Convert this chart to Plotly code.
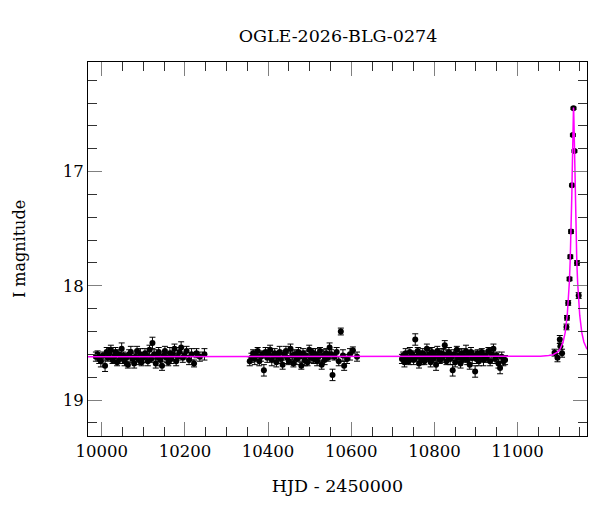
import plotly.graph_objects as go

# ---- Season 1 ----
t1 = [9986, 9990, 9994, 9998, 10003, 10008, 10012, 10015,
      10019, 10022, 10026, 10030, 10033, 10037, 10041, 10044,
      10048, 10052, 10055, 10059, 10063, 10066, 10070, 10074,
      10078, 10081, 10085, 10089, 10093, 10096, 10100, 10104,
      10108, 10111, 10115, 10119, 10122, 10126, 10130, 10134,
      10137, 10141, 10145, 10149, 10152, 10156, 10160, 10164,
      10167, 10171, 10175, 10179, 10183, 10187, 10191, 10195,
      10199, 10204, 10210, 10216, 10222, 10228, 10236, 10247]
m1 = [18.62, 18.60, 18.64, 18.66, 18.61, 18.70, 18.58, 18.63,
      18.59, 18.56, 18.65, 18.62, 18.58, 18.67, 18.60, 18.64,
      18.55, 18.61, 18.66, 18.63, 18.69, 18.60, 18.58, 18.64,
      18.68, 18.62, 18.57, 18.65, 18.60, 18.67, 18.63, 18.59,
      18.61, 18.66, 18.56, 18.64, 18.50, 18.60, 18.68, 18.62,
      18.58, 18.65, 18.70, 18.61, 18.57, 18.63, 18.67, 18.59,
      18.64, 18.60, 18.55, 18.66, 18.62, 18.58, 18.54, 18.63,
      18.61, 18.57, 18.65, 18.60, 18.68, 18.59, 18.62, 18.60]
e1 = [0.04, 0.03, 0.04, 0.05, 0.03, 0.05, 0.04, 0.03,
      0.04, 0.04, 0.03, 0.05, 0.04, 0.03, 0.04, 0.04,
      0.05, 0.03, 0.04, 0.04, 0.03, 0.04, 0.05, 0.03,
      0.04, 0.03, 0.04, 0.04, 0.05, 0.03, 0.04, 0.04,
      0.03, 0.04, 0.04, 0.03, 0.05, 0.04, 0.04, 0.03,
      0.04, 0.05, 0.04, 0.03, 0.04, 0.04, 0.03, 0.05,
      0.04, 0.03, 0.04, 0.04, 0.03, 0.04, 0.05, 0.04,
      0.03, 0.04, 0.04, 0.05, 0.03, 0.04, 0.04, 0.05]

# ---- Season 2 ----
t2 = [10356, 10360, 10364, 10368, 10371, 10375, 10379, 10383,
      10386, 10390, 10394, 10398, 10401, 10405, 10409, 10413,
      10416, 10420, 10424, 10428, 10431, 10435, 10439, 10443,
      10446, 10450, 10454, 10458, 10461, 10465, 10469, 10473,
      10476, 10480, 10484, 10488, 10491, 10495, 10499, 10503,
      10506, 10510, 10514, 10518, 10521, 10525, 10529, 10533,
      10536, 10540, 10544, 10548, 10552, 10555, 10560, 10565,
      10570, 10575, 10580, 10583, 10590, 10597, 10604, 10614]
m2 = [18.66, 18.63, 18.59, 18.64, 18.61, 18.57, 18.66, 18.62,
      18.60, 18.74, 18.58, 18.63, 18.60, 18.56, 18.65, 18.61,
      18.59, 18.67, 18.62, 18.58, 18.64, 18.69, 18.60, 18.57,
      18.63, 18.66, 18.55, 18.61, 18.68, 18.60, 18.64, 18.58,
      18.62, 18.70, 18.59, 18.65, 18.61, 18.67, 18.56, 18.63,
      18.58, 18.64, 18.60, 18.66, 18.62, 18.57, 18.69, 18.61,
      18.65, 18.59, 18.63, 18.54, 18.60, 18.78, 18.62, 18.58,
      18.66, 18.40, 18.61, 18.70, 18.64, 18.60, 18.565, 18.62]
e2 = [0.04, 0.04, 0.03, 0.05, 0.04, 0.03, 0.04, 0.04,
      0.03, 0.05, 0.04, 0.04, 0.03, 0.04, 0.05, 0.03,
      0.04, 0.04, 0.03, 0.05, 0.04, 0.04, 0.03, 0.04,
      0.05, 0.03, 0.04, 0.04, 0.03, 0.04, 0.05, 0.04,
      0.04, 0.03, 0.04, 0.05, 0.04, 0.03, 0.04, 0.04,
      0.03, 0.04, 0.05, 0.04, 0.04, 0.03, 0.04, 0.05,
      0.04, 0.04, 0.03, 0.04, 0.04, 0.05, 0.03, 0.04,
      0.04, 0.03, 0.05, 0.04, 0.04, 0.05, 0.03, 0.04]

# ---- Season 3 ----
t3 = [10722, 10725, 10728, 10731, 10735, 10738, 10741, 10744,
      10747, 10750, 10754, 10757, 10760, 10763, 10766, 10769,
      10772, 10776, 10779, 10782, 10785, 10788, 10791, 10794,
      10797, 10800, 10804, 10807, 10810, 10813, 10816, 10819,
      10822, 10825, 10829, 10832, 10835, 10838, 10841, 10844,
      10847, 10850, 10854, 10857, 10860, 10863, 10866, 10869,
      10872, 10876, 10879, 10882, 10885, 10888, 10891, 10894,
      10898, 10901, 10904, 10907, 10911, 10914, 10918, 10922,
      10926, 10930, 10934, 10938, 10942, 10946, 10950, 10954,
      10958, 10962, 10966, 10970]
m3 = [18.64, 18.61, 18.67, 18.59, 18.63, 18.66, 18.58, 18.62,
      18.60, 18.65, 18.47, 18.62, 18.57, 18.68, 18.61, 18.64,
      18.59, 18.66, 18.62, 18.55, 18.63, 18.60, 18.67, 18.58,
      18.64, 18.61, 18.69, 18.57, 18.62, 18.65, 18.59, 18.63,
      18.60, 18.52, 18.66, 18.61, 18.58, 18.64, 18.62, 18.74,
      18.60, 18.67, 18.56, 18.63, 18.61, 18.68, 18.59, 18.64,
      18.62, 18.57, 18.65, 18.60, 18.69, 18.58, 18.63, 18.61,
      18.75, 18.64, 18.59, 18.66, 18.62, 18.58, 18.65, 18.61,
      18.63, 18.57, 18.66, 18.60, 18.55, 18.64, 18.61, 18.68,
      18.72, 18.62, 18.66, 18.65]
e3 = [0.04, 0.03, 0.04, 0.04, 0.05, 0.03, 0.04, 0.04,
      0.03, 0.04, 0.05, 0.04, 0.03, 0.04, 0.04, 0.05,
      0.04, 0.03, 0.04, 0.04, 0.03, 0.05, 0.04, 0.04,
      0.03, 0.04, 0.05, 0.04, 0.04, 0.03, 0.04, 0.04,
      0.05, 0.04, 0.03, 0.04, 0.04, 0.05, 0.03, 0.05,
      0.04, 0.04, 0.03, 0.04, 0.05, 0.04, 0.04, 0.03,
      0.04, 0.05, 0.04, 0.03, 0.04, 0.04, 0.05, 0.04,
      0.05, 0.04, 0.03, 0.04, 0.04, 0.03, 0.05, 0.04,
      0.04, 0.03, 0.04, 0.05, 0.04, 0.04, 0.03, 0.04,
      0.05, 0.04, 0.04, 0.04]

# ---- 2026 event season (rise and peak) ----
tp = [11089, 11096, 11101.6, 11103, 11107, 11117.6, 11118.9, 11121.8,
      11125.0, 11126.9, 11128.6, 11130.9, 11133.0, 11134.5, 11136.8,
      11143, 11147]
mp = [18.585, 18.63, 18.47, 18.53, 18.59, 18.36, 18.28, 18.15,
      17.94, 17.745, 17.525, 17.12, 16.68, 16.445, 16.82,
      17.80, 18.085]
ep = [0.03, 0.035, 0.035, 0.03, 0.035, 0.025, 0.02, 0.02,
      0.015, 0.015, 0.015, 0.012, 0.01, 0.01, 0.01,
      0.02, 0.025]

# ---- Best-fit model curve (sampled) ----
tm = [9967, 10800, 10985, 11015, 11055, 11075, 11085, 11095, 11102,
      11109.5, 11114.5, 11119.5, 11122, 11124.5, 11126.5, 11127.5,
      11128.5, 11129.5, 11130.5, 11131.5, 11132, 11132.5, 11133, 11133.5,
      11134, 11134.5, 11135, 11135.5, 11136, 11136.5, 11137, 11137.5,
      11138.5, 11139.5, 11140.5, 11142.5, 11144.5, 11147, 11149.5,
      11154.5, 11159.5, 11167]
mm = [18.620, 18.620, 18.620, 18.619, 18.617, 18.611, 18.603, 18.584, 18.556,
      18.492, 18.409, 18.257, 18.138, 17.971, 17.789, 17.676,
      17.544, 17.389, 17.207, 16.995, 16.879, 16.759, 16.642, 16.539,
      16.465, 16.439, 16.465, 16.539, 16.642, 16.759, 16.879, 16.995,
      17.207, 17.389, 17.544, 17.789, 17.971, 18.138, 18.257,
      18.409, 18.492, 18.556]

title_text = "OGLE-2026-BLG-0274"
x_title = "HJD - 2450000"
y_title = "I magnitude"

t_all = t1 + t2 + t3 + tp
m_all = m1 + m2 + m3 + mp
e_all = e1 + e2 + e3 + ep

FONT = "DejaVu Serif"

fig = go.Figure()
fig.add_trace(go.Scatter(
    x=t_all, y=m_all, mode="markers",
    marker=dict(color="black", size=6, symbol="circle"),
    error_y=dict(type="data", array=e_all, color="black", thickness=1, width=3),
    showlegend=False, hoverinfo="skip"))
fig.add_trace(go.Scatter(
    x=tm, y=mm, mode="lines",
    line=dict(color="#ff00ff", width=1.5),
    showlegend=False, hoverinfo="skip"))

axis_common = dict(
    showgrid=False, zeroline=False, showline=True, linecolor="black", linewidth=1,
    mirror="allticks", ticks="inside", ticklen=14, tickwidth=1, tickcolor="#808080",
    tickfont=dict(family=FONT, size=16.5, color="black"), automargin=False,
)
fig.update_xaxes(
    range=[9967, 11167], tick0=10000, dtick=200, tickformat="d",
    minor=dict(ticks="inside", ticklen=9, tickcolor="#333333", dtick=50, tick0=10000, showgrid=False),
    title=dict(text=x_title, font=dict(family=FONT, size=17.5, color="black"), standoff=19),
    **axis_common)
fig.update_yaxes(
    range=[19.315, 16.04], tick0=17, dtick=1, tickformat="d",
    minor=dict(ticks="inside", ticklen=9, tickcolor="#333333", dtick=0.2, tick0=17, showgrid=False),
    title=dict(text=y_title, font=dict(family=FONT, size=16, color="black"), standoff=33),
    **axis_common)

# page body has an 8px margin, so the figure is sized/offset to compensate
fig.update_layout(
    width=592, height=504,
    margin=dict(l=80, r=13, t=54, b=76),
    paper_bgcolor="white", plot_bgcolor="white",
    title=dict(text=title_text, x=0.5574, xanchor="center", yref="container", y=0.944, yanchor="middle",
               font=dict(family=FONT, size=17.5, color="black")),
)

fig.write_html("out.html")
